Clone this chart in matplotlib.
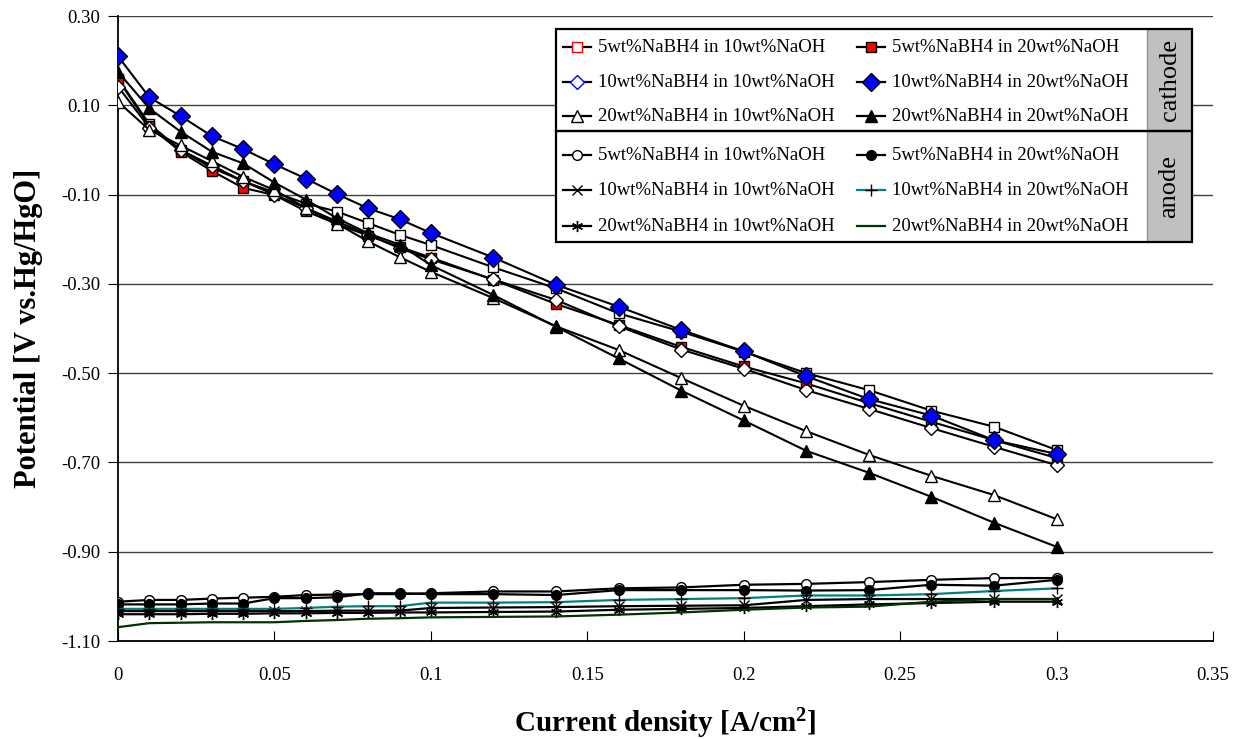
import matplotlib.pyplot as plt
from matplotlib.lines import Line2D
from matplotlib.patches import Rectangle

plt.rcParams['font.family'] = ['Liberation Serif', 'DejaVu Serif']
plt.rcParams['mathtext.fontset'] = 'custom'
plt.rcParams['mathtext.rm'] = 'Liberation Serif'
plt.rcParams['mathtext.bf'] = 'Liberation Serif:bold'

# current density [A/cm2]
current = [0, 0.01, 0.02, 0.03, 0.04, 0.05, 0.06, 0.07, 0.08, 0.09, 0.1,
           0.12, 0.14, 0.16, 0.18, 0.2, 0.22, 0.24, 0.26, 0.28, 0.3]

labels = ["5wt%NaBH4 in 10wt%NaOH", "5wt%NaBH4 in 20wt%NaOH",
          "10wt%NaBH4 in 10wt%NaOH", "10wt%NaBH4 in 20wt%NaOH",
          "20wt%NaBH4 in 10wt%NaOH", "20wt%NaBH4 in 20wt%NaOH"]

# cathode potentials [V vs. Hg/HgO]
cat_5_10 = [0.160, 0.058, 0.000, -0.040, -0.070, -0.095, -0.120, -0.138, -0.164, -0.190, -0.213,
            -0.263, -0.310, -0.366, -0.407, -0.452, -0.500, -0.538, -0.584, -0.620, -0.672]
cat_5_20 = [0.158, 0.054, -0.004, -0.047, -0.085, -0.101, -0.137, -0.166, -0.192, -0.217, -0.241,
            -0.291, -0.345, -0.392, -0.441, -0.485, -0.523, -0.567, -0.609, -0.650, -0.690]
cat_10_10 = [0.142, 0.050, 0.000, -0.035, -0.070, -0.100, -0.130, -0.160, -0.190, -0.220, -0.245,
             -0.290, -0.336, -0.395, -0.447, -0.490, -0.538, -0.580, -0.623, -0.665, -0.706]
cat_10_20 = [0.210, 0.118, 0.076, 0.031, 0.002, -0.032, -0.064, -0.099, -0.131, -0.155, -0.186,
             -0.241, -0.302, -0.351, -0.403, -0.451, -0.507, -0.558, -0.595, -0.650, -0.681]
cat_20_10 = [0.108, 0.045, 0.010, -0.025, -0.060, -0.090, -0.130, -0.165, -0.205, -0.240, -0.273,
             -0.332, -0.395, -0.448, -0.511, -0.573, -0.630, -0.683, -0.730, -0.773, -0.827]
cat_20_20 = [0.175, 0.093, 0.041, -0.004, -0.030, -0.073, -0.111, -0.153, -0.187, -0.212, -0.258,
             -0.325, -0.396, -0.467, -0.539, -0.606, -0.674, -0.723, -0.777, -0.835, -0.889]

# anode potentials [V vs. Hg/HgO]
an_5_10 = [-1.012, -1.008, -1.008, -1.005, -1.003, -1.001, -0.997, -0.996, -0.995, -0.995, -0.993,
           -0.989, -0.989, -0.982, -0.980, -0.974, -0.972, -0.968, -0.963, -0.959, -0.959]
an_5_20 = [-1.018, -1.018, -1.018, -1.016, -1.016, -1.004, -1.004, -1.002, -0.993, -0.993, -0.995,
           -0.995, -0.997, -0.986, -0.986, -0.986, -0.987, -0.986, -0.974, -0.976, -0.963]
an_10_10 = [-1.033, -1.033, -1.033, -1.033, -1.033, -1.033, -1.033, -1.032, -1.032, -1.032, -1.026,
            -1.025, -1.024, -1.022, -1.021, -1.020, -1.008, -1.006, -1.006, -1.006, -1.006]
an_10_20 = [-1.028, -1.028, -1.028, -1.028, -1.028, -1.028, -1.026, -1.023, -1.022, -1.022, -1.014,
            -1.014, -1.013, -1.008, -1.006, -1.004, -0.998, -0.998, -0.995, -0.988, -0.982]
an_20_10 = [-1.040, -1.040, -1.040, -1.039, -1.039, -1.038, -1.038, -1.037, -1.037, -1.036, -1.036,
            -1.035, -1.034, -1.030, -1.028, -1.026, -1.022, -1.018, -1.015, -1.012, -1.012]
an_20_20 = [-1.069, -1.060, -1.059, -1.058, -1.058, -1.058, -1.055, -1.053, -1.050, -1.049, -1.047,
            -1.046, -1.045, -1.041, -1.036, -1.030, -1.025, -1.023, -1.012, -1.006, -1.006]

xticks = [0, 0.05, 0.1, 0.15, 0.2, 0.25, 0.3, 0.35]
xticklabels = ["0", "0.05", "0.1", "0.15", "0.2", "0.25", "0.3", "0.35"]
yticks = [0.30, 0.10, -0.10, -0.30, -0.50, -0.70, -0.90, -1.10]

ASTER = (6, 2, 0)
TEAL = "#008080"
DKGREEN = "#003300"

# style per series: (marker, size, face, edge, line color)
cat_styles = [("s", 7, "white", "black", "black"),
              ("s", 7, "red", "black", "black"),
              ("D", 7, "white", "black", "black"),
              ("D", 9, "blue", "black", "black"),
              ("^", 9, "white", "black", "black"),
              ("^", 9, "black", "black", "black")]
an_styles = [("o", 7, "white", "black", "black"),
             ("o", 7, "black", "black", "black"),
             ("x", 7, "black", "black", "black"),
             ("+", 9, "black", "black", TEAL),
             (ASTER, 8, "black", "black", "black"),
             ("None", 0, "none", "none", DKGREEN)]

fig = plt.figure(figsize=(12.45, 7.39), dpi=100)
ax = fig.add_axes([0.0948, 0.1326, 0.8795, 0.8457])

for v in yticks:
    ax.axhline(v, color="#404040", lw=1, zorder=0)

for ys, st in zip([an_5_10, an_5_20, an_10_10, an_10_20, an_20_10, an_20_20], an_styles):
    m, ms, fc, ec, lc = st
    ax.plot(current, ys, color=lc, lw=1.6, marker=m, ms=ms, mfc=fc, mec=ec, mew=1.0, zorder=3)

order = [0, 1, 2, 4, 5, 3]
cat_all = [cat_5_10, cat_5_20, cat_10_10, cat_10_20, cat_20_10, cat_20_20]
for i in order:
    m, ms, fc, ec, lc = cat_styles[i]
    ax.plot(current, cat_all[i], color=lc, lw=1.5, marker=m, ms=ms, mfc=fc, mec=ec, mew=1.0, zorder=4)

ax.set_xlim(0, 0.35)
ax.set_ylim(-1.10, 0.30)
ax.set_xticks(xticks)
ax.set_xticklabels(xticklabels)
ax.set_yticks(yticks)
ax.set_yticklabels([f"{v:.2f}" for v in yticks])
ax.tick_params(axis="x", direction="in", length=7, labelsize=13.5, pad=19)
ax.tick_params(axis="y", direction="out", length=7, labelsize=13.5, pad=6)
ax.spines["top"].set_visible(False)
ax.spines["right"].set_visible(False)
ax.spines["left"].set_linewidth(1.3)
ax.spines["bottom"].set_linewidth(1.3)

ax.set_xlabel("Current density [A/cm$\\mathbf{^2}$]", fontsize=21, fontweight="bold", labelpad=16)
ax.set_ylabel("Potential [V vs.Hg/HgO]", fontsize=22, fontweight="bold", labelpad=13)


# ---- legend drawn by hand: two boxes with gray side labels
def fx(px):
    return (px - 118) / 1095.0


def fy(py):
    return (641 - py) / 625.0


left, right, gray_left = fx(556), fx(1192), fx(1147)
top, mid, bottom = fy(29), fy(131), fy(242)
tr = ax.transAxes

ax.add_patch(Rectangle((left, bottom), right - left, top - bottom, transform=tr,
                       facecolor="white", edgecolor="none", zorder=6, clip_on=False))
ax.add_patch(Rectangle((gray_left, bottom), right - gray_left, top - bottom, transform=tr,
                       facecolor="#C0C0C0", edgecolor="none", zorder=6, clip_on=False))
for y0, y1 in [(mid, top), (bottom, mid)]:
    ax.add_patch(Rectangle((left, y0), right - left, y1 - y0, transform=tr,
                           facecolor="none", edgecolor="black", lw=1.6, zorder=8, clip_on=False))
ax.add_line(Line2D([gray_left, gray_left], [bottom, top], transform=tr, color="#909090",
                   lw=1, zorder=7, clip_on=False))
ax.text((gray_left + right) / 2, (mid + top) / 2, "cathode", transform=tr, rotation=90,
        ha="center", va="center", fontsize=19, zorder=9)
ax.text((gray_left + right) / 2, (bottom + mid) / 2, "anode", transform=tr, rotation=90,
        ha="center", va="center", fontsize=19, zorder=9)

rows_cat = [fy(47), fy(82), fy(116)]
rows_an = [fy(155), fy(190), fy(226)]
cols = [(fx(563), fx(591), fx(598)), (fx(857), fx(885), fx(892))]

legend_cat = [("s", 7, "white", "red", "black"),
              ("s", 7, "red", "black", "black"),
              ("D", 7, "white", "blue", "black"),
              ("D", 9, "blue", "black", "black"),
              ("^", 9, "white", "black", "black"),
              ("^", 9, "black", "black", "black")]

for k in range(6):
    c = cols[k % 2]
    for rows, styles in [(rows_cat, legend_cat), (rows_an, an_styles)]:
        yy = rows[k // 2]
        m, ms, fc, ec, lc = styles[k]
        ax.add_line(Line2D([c[0], c[1]], [yy, yy], transform=tr, color=lc, lw=1.6,
                           zorder=9, clip_on=False))
        if m != "None":
            ax.add_line(Line2D([(c[0] + c[1]) / 2], [yy], transform=tr, marker=m, ms=ms,
                               mfc=fc, mec=ec, mew=1.0, ls="none", zorder=10, clip_on=False))
        ax.text(c[2], yy, labels[k], transform=tr, ha="left", va="center",
                fontsize=13.5, zorder=10)

fig.savefig("out.png", dpi=100)
